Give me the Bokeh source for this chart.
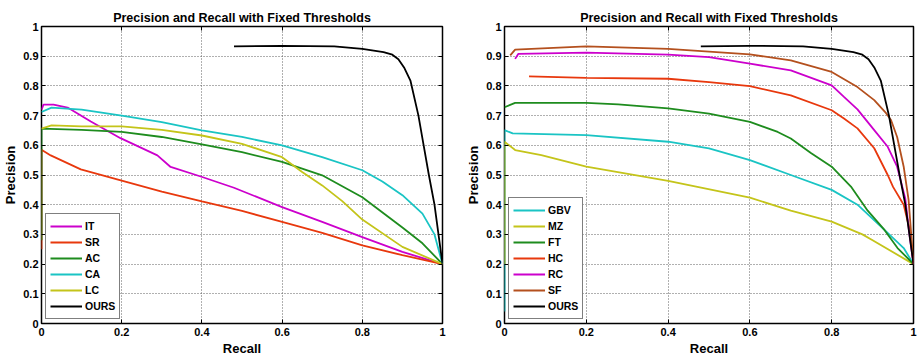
from bokeh.plotting import figure
from bokeh.layouts import row
from bokeh.models import (Legend, LegendItem, LinearAxis, FixedTicker,
                          CustomJSTickFormatter, CustomLabelingPolicy, Range1d)
from bokeh.embed import file_html
from bokeh.resources import INLINE

TITLE = "Precision and Recall with Fixed Thresholds"
X_TICKS = [0, 0.2, 0.4, 0.6, 0.8, 1.0]
Y_TICKS = [0, 0.1, 0.2, 0.3, 0.4, 0.5, 0.6, 0.7, 0.8, 0.9, 1.0]

# ---------- left panel ----------
IT_r = [0, 0.005, 0.03, 0.065, 0.123, 0.197, 0.289, 0.322, 0.397, 0.48, 0.6, 0.7, 0.8, 0.9, 1.0]
IT_p = [0.72, 0.737, 0.737, 0.727, 0.68, 0.624, 0.566, 0.527, 0.495, 0.457, 0.392, 0.342, 0.291, 0.241, 0.2]
SR_r = [0, 0, 0.023, 0.098, 0.2, 0.3, 0.4, 0.5, 0.6, 0.7, 0.8, 0.9, 1.0]
SR_p = [0.25, 0.585, 0.566, 0.519, 0.481, 0.444, 0.411, 0.379, 0.342, 0.305, 0.263, 0.23, 0.2]
AC_r = [0, 0, 0.1, 0.2, 0.3, 0.4, 0.5, 0.6, 0.7, 0.8, 0.9, 0.95, 1.0]
AC_p = [0.28, 0.656, 0.652, 0.645, 0.628, 0.603, 0.577, 0.544, 0.499, 0.425, 0.323, 0.27, 0.2]
CA_r = [0, 0.025, 0.1, 0.2, 0.3, 0.4, 0.5, 0.6, 0.7, 0.8, 0.85, 0.9, 0.95, 0.98, 1.0]
CA_p = [0.712, 0.727, 0.72, 0.70, 0.678, 0.65, 0.628, 0.60, 0.56, 0.516, 0.478, 0.432, 0.37, 0.30, 0.2]
LC_r = [0, 0.025, 0.1, 0.2, 0.3, 0.4, 0.5, 0.6, 0.65, 0.7, 0.75, 0.8, 0.9, 1.0]
LC_p = [0.656, 0.667, 0.664, 0.664, 0.652, 0.633, 0.605, 0.56, 0.51, 0.465, 0.412, 0.35, 0.258, 0.2]
OURS_r = [0.48, 0.6, 0.73, 0.8, 0.853, 0.875, 0.89, 0.905, 0.92, 0.94, 0.953, 0.966, 0.98, 1.0]
OURS_p = [0.933, 0.935, 0.933, 0.925, 0.914, 0.905, 0.89, 0.86, 0.818, 0.7, 0.6, 0.5, 0.4, 0.2]

# ---------- right panel ----------
GBV_r = [0, 0, 0.02, 0.2, 0.4, 0.5, 0.6, 0.7, 0.8, 0.863, 0.929, 0.976, 1.0]
GBV_p = [0.04, 0.651, 0.64, 0.634, 0.612, 0.59, 0.55, 0.5, 0.45, 0.4, 0.315, 0.254, 0.2]
MZ_r = [0, 0, 0.026, 0.09, 0.2, 0.4, 0.6, 0.7, 0.8, 0.875, 0.9, 1.0]
MZ_p = [0.2, 0.612, 0.584, 0.567, 0.528, 0.48, 0.424, 0.38, 0.343, 0.30, 0.28, 0.2]
FT_r = [0, 0.026, 0.2, 0.278, 0.4, 0.5, 0.6, 0.668, 0.7, 0.75, 0.8, 0.847, 0.888, 0.929, 0.961, 1.0]
FT_p = [0.728, 0.743, 0.743, 0.738, 0.724, 0.707, 0.679, 0.645, 0.623, 0.573, 0.528, 0.461, 0.38, 0.315, 0.254, 0.2]
HC_r = [0.06, 0.2, 0.4, 0.5, 0.6, 0.7, 0.8, 0.83, 0.863, 0.904, 0.937, 0.95, 0.976, 0.99, 1.0]
HC_p = [0.832, 0.827, 0.824, 0.813, 0.799, 0.768, 0.718, 0.69, 0.657, 0.59, 0.5, 0.46, 0.4, 0.32, 0.2]
RC_r = [0.026, 0.034, 0.2, 0.4, 0.5, 0.6, 0.7, 0.8, 0.83, 0.863, 0.904, 0.937, 0.96, 0.98, 0.99, 1.0]
RC_p = [0.891, 0.908, 0.912, 0.905, 0.897, 0.875, 0.852, 0.802, 0.763, 0.721, 0.651, 0.595, 0.528, 0.42, 0.3, 0.2]
SF_r = [0.014, 0.026, 0.2, 0.4, 0.6, 0.7, 0.8, 0.863, 0.904, 0.933, 0.945, 0.96, 0.976, 0.988, 1.0]
SF_p = [0.903, 0.922, 0.933, 0.925, 0.906, 0.886, 0.847, 0.796, 0.752, 0.708, 0.685, 0.628, 0.528, 0.416, 0.2]

MAGENTA = "#cc00cc"
RED = "#e8380d"
GREEN = "#1e8c1e"
CYAN = "#1ac4c4"
YELLOW = "#c4c41a"
BROWN = "#b4501e"
BLACK = "#000000"

LEFT_SERIES = [("IT", IT_r, IT_p, MAGENTA), ("SR", SR_r, SR_p, RED),
               ("AC", AC_r, AC_p, GREEN), ("CA", CA_r, CA_p, CYAN),
               ("LC", LC_r, LC_p, YELLOW), ("OURS", OURS_r, OURS_p, BLACK)]
RIGHT_SERIES = [("GBV", GBV_r, GBV_p, CYAN), ("MZ", MZ_r, MZ_p, YELLOW),
                ("FT", FT_r, FT_p, GREEN), ("HC", HC_r, HC_p, RED),
                ("RC", RC_r, RC_p, MAGENTA), ("SF", SF_r, SF_p, BROWN),
                ("OURS", OURS_r, OURS_p, BLACK)]

FONT = "Liberation Sans"

HIDE_ALL = CustomLabelingPolicy(code="""
    const all = [...indices];
    for (const i of all) indices.unset(i);
    return indices;
""")


def style_axis(ax, ticks, show_labels=True):
    ax.ticker = FixedTicker(ticks=ticks)
    ax.axis_line_color = None
    ax.major_tick_in = 4
    ax.major_tick_out = 0
    ax.minor_tick_in = 0
    ax.minor_tick_out = 0
    ax.major_tick_line_color = "black"
    ax.major_tick_line_width = 1
    ax.major_label_text_font = FONT
    ax.major_label_text_font_style = "bold"
    ax.major_label_text_color = "black"
    if show_labels:
        ax.formatter = CustomJSTickFormatter(code="return String(Math.round(tick*10)/10);")
        ax.major_label_text_font_size = "11px"
    else:
        ax.formatter = CustomJSTickFormatter(code="return '';")
        ax.major_label_policy = HIDE_ALL
        ax.major_label_text_font_size = "1px"
        ax.major_label_standoff = 0


def make_fig(width, mb_left, mb_right, series):
    p = figure(width=width, height=362, x_range=Range1d(0, 1), y_range=Range1d(0, 1),
               output_backend="svg", toolbar_location=None, title=TITLE,
               min_border_left=mb_left, min_border_right=mb_right,
               min_border_top=26, min_border_bottom=39)
    p.title.text_font = FONT
    p.title.text_font_size = "12.5px"
    p.title.text_font_style = "bold"
    p.title.align = "center"
    p.title.standoff = 4
    p.title.text_color = "black"

    style_axis(p.xaxis[0], X_TICKS)
    style_axis(p.yaxis[0], Y_TICKS)
    p.xaxis.major_label_standoff = 4
    p.yaxis.major_label_standoff = 3
    p.xaxis.axis_label = "Recall"
    p.yaxis.axis_label = "Precision"
    for ax in (p.xaxis[0], p.yaxis[0]):
        ax.axis_label_text_font = FONT
        ax.axis_label_text_font_style = "bold"
        ax.axis_label_text_font_size = "13px"
        ax.axis_label_standoff = 2
        ax.axis_label_text_color = "black"

    ax_r = LinearAxis()
    style_axis(ax_r, Y_TICKS, show_labels=False)
    p.add_layout(ax_r, "right")
    ax_t = LinearAxis()
    style_axis(ax_t, X_TICKS, show_labels=False)
    p.add_layout(ax_t, "above")

    p.xgrid.ticker = FixedTicker(ticks=X_TICKS)
    p.ygrid.ticker = FixedTicker(ticks=Y_TICKS)
    for g in (p.xgrid[0], p.ygrid[0]):
        g.grid_line_color = "#606060"
        g.grid_line_dash = "1 2"
        g.grid_line_width = 1

    p.outline_line_color = "black"
    p.outline_line_width = 1.5
    p.outline_line_alpha = 1
    p.background_fill_color = "white"
    p.border_fill_color = "white"

    items = []
    for name, r, pr, col in series:
        rend = p.line(r, pr, line_color=col, line_width=1.8)
        items.append(LegendItem(label=name, renderers=[rend]))

    leg = Legend(items=items, location="bottom_left")
    leg.border_line_color = "black"
    leg.border_line_width = 1.5
    leg.background_fill_color = "white"
    leg.background_fill_alpha = 1
    leg.label_text_font = FONT
    leg.label_text_font_style = "bold"
    leg.label_text_font_size = "10.5px"
    leg.label_text_color = "black"
    leg.glyph_width = 32
    leg.glyph_height = 16
    leg.label_height = 16
    leg.label_standoff = 3
    leg.spacing = 0
    leg.padding = 4
    leg.margin = 4
    p.add_layout(leg)
    return p


p1 = make_fig(458, 41, 16, LEFT_SERIES)
p2 = make_fig(459, 46, 4, RIGHT_SERIES)

layout = row(p1, p2)
open("out.html", "w").write(file_html(layout, INLINE))
